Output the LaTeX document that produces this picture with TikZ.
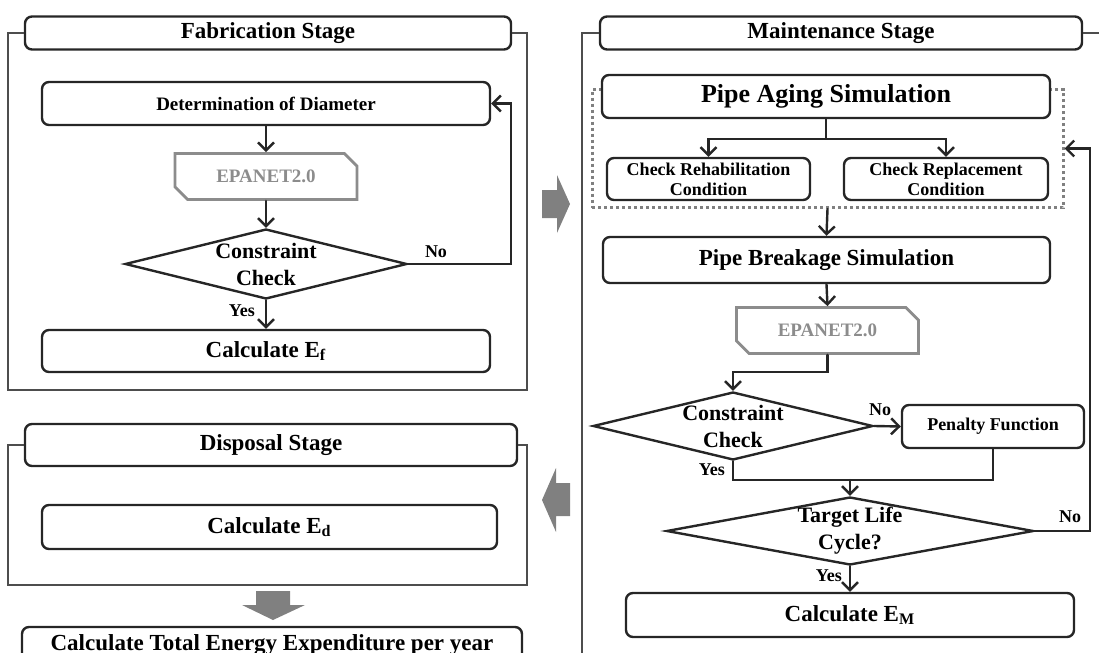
\documentclass[tikz,border=0pt]{standalone}
\usepackage{fontspec}
\setmainfont{Liberation Serif}
\usetikzlibrary{arrows.meta,shapes.geometric,shapes.misc}
\definecolor{xianse}{HTML}{262626}
\definecolor{kuangse}{HTML}{4D4D4D}
\definecolor{huise}{HTML}{808080}
\definecolor{qianhui}{HTML}{8C8C8C}

\begin{document}
\begin{tikzpicture}[x=0.5pt,y=-0.5pt,line width=1.2pt,line cap=round]
	\useasboundingbox (0,0) rectangle (1099,653);
	\tikzstyle{kuang}=[draw=xianse,rounded corners=3.5pt,inner sep=0pt,align=center,font=\fontsize{11.5}{13}\selectfont\bfseries];
	\tikzstyle{biaoti}=[kuang,minimum height=16.5pt];
	\tikzstyle{xiao}=[font=\fontsize{9}{10}\selectfont\bfseries];
	\tikzstyle{epanet}=[chamfered rectangle,chamfered rectangle corners={north east,south west},chamfered rectangle xsep=4.5pt,draw=qianhui,line width=1.4pt,text=qianhui,minimum width=91pt,minimum height=23pt,inner sep=0pt,font=\fontsize{9.5}{11}\selectfont\bfseries];
	\tikzstyle{lingxing}=[diamond,draw=xianse,inner sep=0pt];
	\tikzstyle{wenzi}=[align=center,font=\fontsize{11}{13.5}\selectfont\bfseries];
	\tikzstyle{biao}=[inner sep=1pt,font=\fontsize{9}{10}\selectfont\bfseries];
	\tikzstyle{jian}=[draw=xianse,-{Straight Barb[length=4pt,width=8pt]}];
	\tikzstyle{xian}=[draw=xianse];
	\tikzstyle{waikuang}=[draw=kuangse,line width=1.4pt,line cap=butt];
	\tikzstyle{dajian}=[fill=huise,draw=none];
	\node[biaoti,minimum width=243pt] (fabhead) at (268,33) {Fabrication Stage};
	\draw[waikuang] (fabhead.west) -| (8,390) -| (527,33) -- (fabhead.east);
	\node[kuang,minimum width=224pt,minimum height=21.5pt,font=\fontsize{9.5}{11}\selectfont\bfseries] (diam) at (266,103.5) {Determination of Diameter};
	\node[epanet] (epa1) at (266,176.5) {EPANET2.0};
	\node[lingxing,minimum width=141pt,minimum height=35pt] (cc1) at (266,264) {};
	\node[wenzi] (cc1t) at (cc1) {Constraint\\Check};
	\node[kuang,minimum width=224pt,minimum height=21pt] (calcf) at (266,351) {Calculate E\textsubscript{f}};
	\draw[jian] (diam.south) -- (epa1.north);
	\draw[jian] (epa1.south) -- (cc1.north);
	\draw[jian] (cc1.south) -- (calcf.north);
	\draw[jian] (cc1.east) -- ++(103,0) |- (diam.east);
	\node[biao] (no1) at (436,252) {No};
	\node[biao,anchor=east] (yes1) at (258,311) {Yes};
	\fill[dajian] (542,190) -- (557,190) -- (557,175) -- (570,204) -- (557,233) -- (557,218) -- (542,218) -- cycle;
	\node[biaoti,minimum width=246pt,minimum height=21pt] (disphead) at (271,445) {Disposal Stage};
	\draw[waikuang] (disphead.west) -| (8,585) -| (527,445) -- (disphead.east);
	\node[kuang,minimum width=227.5pt,minimum height=22pt] (calcd) at (269.5,527) {Calculate E\textsubscript{d}};
	\fill[dajian] (570,483) -- (556,483) -- (556,468) -- (542,500) -- (556,532) -- (556,516) -- (570,516) -- cycle;
	\fill[dajian] (256,591) -- (290,591) -- (290,605) -- (305,605) -- (273,620) -- (242,605) -- (256,605) -- cycle;
	\node[kuang,minimum width=250pt,minimum height=18pt] (total) at (272,645) {Calculate Total Energy Expenditure per year};
	\node[biaoti,minimum width=241pt] (mainthead) at (841,33) {Maintenance Stage};
	\draw[waikuang] (mainthead.west) -| (582,670);
	\draw[waikuang] (mainthead.east) -- (1110,33);
	\node[draw=huise,line width=1.5pt,line cap=butt,dash pattern=on 1.5pt off 1.5pt,minimum width=235.5pt,minimum height=59pt,inner sep=0pt] (pinggu) at (827.5,148.5) {};
	\node[kuang,fill=white,minimum width=224pt,minimum height=21.5pt,font=\fontsize{13}{15}\selectfont\bfseries] (aging) at (826,96.5) {Pipe Aging Simulation};
	\node[kuang,xiao,minimum width=101.5pt,minimum height=21pt] (rehab) at (708.5,179) {Check Rehabilitation\\Condition};
	\node[kuang,xiao,minimum width=102pt,minimum height=21pt] (repl) at (946,179) {Check Replacement\\Condition};
	\draw[jian] (aging.south) -- ++(0,20) -| (rehab.north);
	\draw[jian] (aging.south) -- ++(0,20) -| (repl.north);
	\node[kuang,minimum width=223.5pt,minimum height=23pt] (breakage) at (826.5,260) {Pipe Breakage Simulation};
	\draw[jian] (pinggu.south) -- (breakage.north);
	\node[epanet] (epa2) at (827.5,330.5) {EPANET2.0};
	\draw[jian] (breakage.south) -- (epa2.north);
	\node[lingxing,minimum width=140pt,minimum height=34pt] (cc2) at (733,426) {};
	\node[wenzi] (cc2t) at (cc2) {Constraint\\Check};
	\draw[jian] (epa2.south) -- ++(0,17) -| (cc2.north);
	\node[kuang,xiao,minimum width=91pt,minimum height=21.5pt] (penalty) at (993,426.5) {Penalty Function};
	\draw[jian] (cc2.east) -- (penalty.west);
	\node[biao] (no2) at (880,410) {No};
	\node[biao,anchor=east] (yes2) at (728,470) {Yes};
	\coordinate (hui) at (850,480);
	\draw[xian] (cc2.south) |- (hui);
	\draw[xian] (penalty.south) |- (hui);
	\node[lingxing,minimum width=183.5pt,minimum height=34pt] (target) at (850,531) {};
	\node[wenzi] (targett) at (target) {Target Life\\Cycle?};
	\draw[jian] (hui) -- (target.north);
	\node[kuang,minimum width=224pt,minimum height=22pt] (calcm) at (850,615) {Calculate E\textsubscript{M}};
	\draw[jian] (target.south) -- (calcm.north);
	\draw[jian] (target.east) -- ++(55,0) |- (pinggu.east);
	\node[biao] (no3) at (1070,517) {No};
	\node[biao,anchor=east] (yes3) at (845,576) {Yes};
\end{tikzpicture}
\end{document}
